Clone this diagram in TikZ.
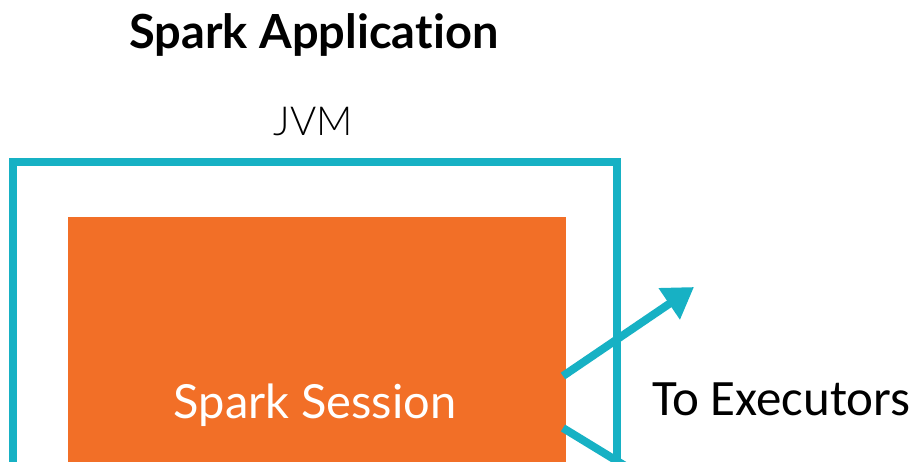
\documentclass[tikz,border=0pt]{standalone}
\usepackage{fontspec}
\setmainfont{Lato}[Ligatures={NoCommon}]
\newfontfamily\calib{Carlito}
\newfontfamily\lightf{Lato Light}
\usetikzlibrary{arrows.meta}
\definecolor{teal}{HTML}{17B1C4}
\definecolor{orng}{HTML}{F26F27}
\begin{document}
\begin{tikzpicture}[x=1pt,y=-1pt,
  frame/.style={draw=teal,line width=8pt},
  conn/.style={draw=teal,line width=8pt}]
\useasboundingbox (0,0) rectangle (913,461);
\begin{scope}
\clip (0,0) rectangle (913,461);
\draw[frame] (13,162) rectangle (617,520);
\fill[orng] (68,217) rectangle (566,520);
\coordinate (s1) at (563,376);
\coordinate (t1) at (694,287);
\coordinate (s2) at (563,428);
\coordinate (t2) at (640,475);
\draw[conn,-{Triangle[length=30pt,width=36pt]}] (s1) -- (t1);
\draw[conn] (s2) -- (t2);
\end{scope}
\node[font=\fontsize{47}{54}\selectfont\bfseries,anchor=base] (title) at (314,48) {Spark Applica\kern0pt tion};
\node[font=\lightf\fontsize{40}{46}\selectfont,anchor=base] (jvm) at (313,135) {JVM};
\node[font=\fontsize{47}{54}\selectfont,text=white,anchor=base] (sess) at (315,418) {Spark Session};
\node[font=\calib\fontsize{51}{57}\selectfont,anchor=base west,inner sep=0pt] (exec) at (652,415) {To Executors};
\end{tikzpicture}
\end{document}
